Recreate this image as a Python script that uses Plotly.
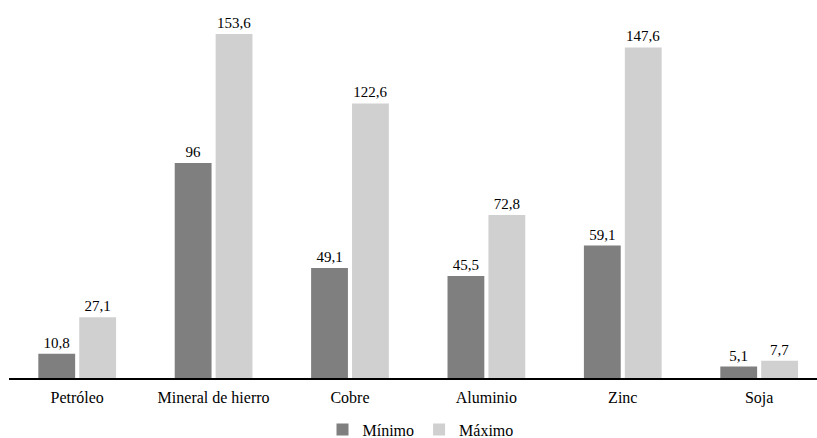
import plotly.graph_objects as go

# Categorías y valores (mínimo y máximo)
categorias = ["Petróleo", "Mineral de hierro", "Cobre", "Aluminio", "Zinc", "Soja"]
minimo = [10.8, 96, 49.1, 45.5, 59.1, 5.1]
maximo = [27.1, 153.6, 122.6, 72.8, 147.6, 7.7]


def etiqueta(v):
    # Formato con coma decimal
    s = f"{v:g}"
    return s.replace(".", ",")


FUENTE = "Liberation Serif, Times New Roman, serif"

fig = go.Figure()
fig.add_trace(go.Bar(
    name="Mínimo", x=categorias, y=minimo,
    marker=dict(color="#7f7f7f", line=dict(width=0)),
    text=[etiqueta(v) for v in minimo], textposition="outside",
    textfont=dict(family=FUENTE, size=15, color="#000"),
    cliponaxis=False,
))
fig.add_trace(go.Bar(
    name="Máximo", x=categorias, y=maximo,
    marker=dict(color="#d0d0d0", line=dict(width=0)),
    text=[etiqueta(v) for v in maximo], textposition="outside",
    textfont=dict(family=FUENTE, size=15, color="#000"),
    cliponaxis=False,
))

fig.update_layout(
    width=817, height=438,
    margin=dict(l=9, r=0, t=0, b=60, autoexpand=False),
    paper_bgcolor="white", plot_bgcolor="white",
    barmode="group", bargap=0.4, bargroupgap=0.1,
    font=dict(family=FUENTE, size=16, color="#000"),
    showlegend=True,
    legend=dict(
        orientation="h", x=0.388, xanchor="left",
        yref="container", y=0.019, yanchor="middle",
        font=dict(family=FUENTE, size=16, color="#000"),
        bgcolor="rgba(0,0,0,0)",
    ),
    xaxis=dict(
        range=[-0.5, 5.424], showline=True, linecolor="#000", linewidth=1.5,
        ticks="", showgrid=False, ticklabelstandoff=4,
        tickfont=dict(family=FUENTE, size=16, color="#000"),
    ),
    yaxis=dict(range=[0, 168.75], visible=False, showgrid=False, zeroline=False),
)

fig.write_html("out.html")
